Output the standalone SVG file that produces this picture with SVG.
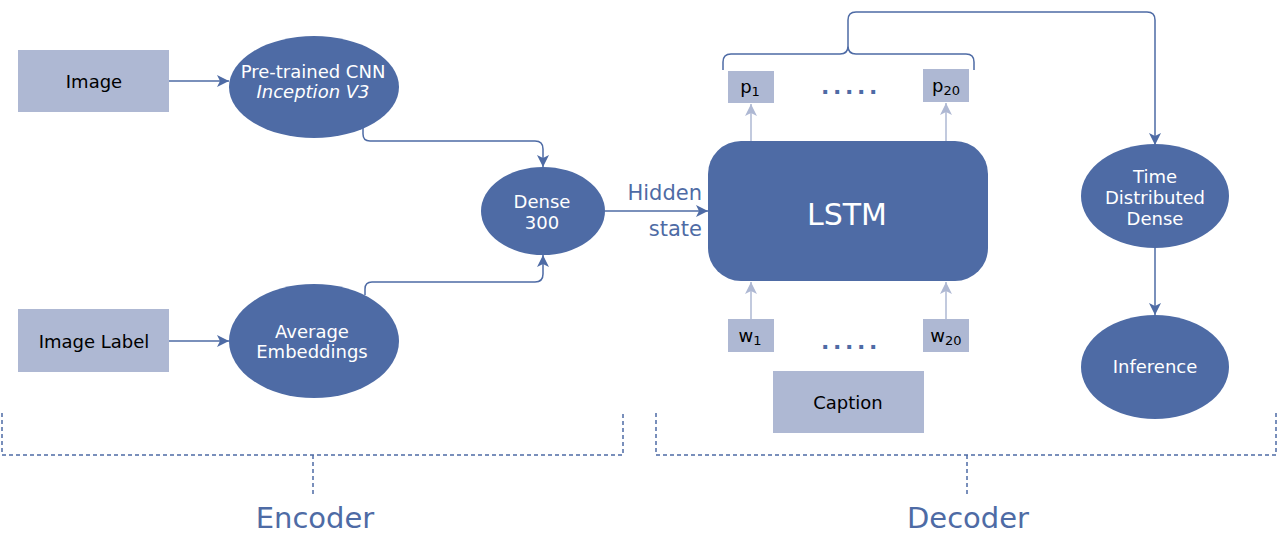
<svg xmlns="http://www.w3.org/2000/svg" width="1278" height="533" viewBox="0 0 1278 533">
<style>
.bx{fill:#AEB8D3}
.nd{fill:#4E6BA5}
.t{font-family:"DejaVu Sans",Verdana,sans-serif;font-size:18px;text-anchor:middle}
.tb{fill:#000}
.tw{fill:#fff}
.ln{fill:none;stroke:#4E6BA5;stroke-width:1.5}
.lt{fill:none;stroke:#AEB8D3;stroke-width:1.5}
.ds{fill:none;stroke:#4E6BA5;stroke-width:1.5;stroke-dasharray:4 3}
.blue{fill:#4E6BA5;font-family:"DejaVu Sans",Verdana,sans-serif}
</style>
<defs>
<marker id="ah" markerUnits="userSpaceOnUse" markerWidth="13" markerHeight="12" refX="12" refY="6" orient="auto">
<path d="M0,0 L12,6 L0,12 L3,6 z" fill="#4E6BA5"/>
</marker>
<marker id="al" markerUnits="userSpaceOnUse" markerWidth="13" markerHeight="12" refX="12" refY="6" orient="auto">
<path d="M0,0 L12,6 L0,12 L3,6 z" fill="#AEB8D3"/>
</marker>
</defs>
<g id="connectors">
<line class="ln" x1="169" y1="81" x2="229" y2="81" marker-end="url(#ah)"/>
<line class="ln" x1="169" y1="341" x2="229" y2="341" marker-end="url(#ah)"/>
<path class="ln" d="M363,126 L363,134 Q363,141 370,141 L535,141 Q543,141 543,149 L543,167" marker-end="url(#ah)"/>
<path class="ln" d="M365,295 L365,289 Q365,282 372,282 L535,282 Q543,282 543,274 L543,255" marker-end="url(#ah)"/>
<line class="ln" x1="605" y1="211" x2="708" y2="211" marker-end="url(#ah)"/>
<line class="lt" x1="751" y1="141" x2="751" y2="104" marker-end="url(#al)"/>
<line class="lt" x1="946" y1="141" x2="946" y2="103" marker-end="url(#al)"/>
<line class="lt" x1="751" y1="319" x2="751" y2="282" marker-end="url(#al)"/>
<line class="lt" x1="946" y1="319" x2="946" y2="282" marker-end="url(#al)"/>
<path class="ln" d="M723,70 L723,62 Q723,54 731,54 L840,54 Q848,54 848,46 Q848,54 856,54 L966,54 Q974,54 974,62 L974,70"/>
<path class="ln" d="M848,46 L848,20 Q848,12 856,12 L1147,12 Q1155,12 1155,20 L1155,145" marker-end="url(#ah)"/>
<line class="ln" x1="1155" y1="248" x2="1155" y2="315" marker-end="url(#ah)"/>
<path class="ds" d="M2,413 L2,455 L623,455 L623,413 M313,455 L313,497"/>
<path class="ds" d="M656,413 L656,455 L1276,455 L1276,413 M967,455 L967,497"/>
</g>
<g id="image">
<rect class="bx" x="18" y="50" width="151" height="62"/>
<text class="t tb" x="94" y="88">Image</text>
</g>
<g id="image-label">
<rect class="bx" x="18" y="309" width="151" height="63"/>
<text class="t tb" x="94" y="348">Image Label</text>
</g>
<g id="cnn">
<ellipse class="nd" cx="314" cy="87" rx="85" ry="51"/>
<text class="t tw" x="313" y="78">Pre-trained CNN</text>
<text class="t tw" x="313" y="98" font-style="italic">Inception V3</text>
</g>
<g id="avg">
<ellipse class="nd" cx="314" cy="341" rx="85" ry="57"/>
<text class="t tw" x="312" y="338">Average</text>
<text class="t tw" x="312" y="358">Embeddings</text>
</g>
<g id="dense">
<ellipse class="nd" cx="543" cy="211" rx="62" ry="44"/>
<text class="t tw" x="542" y="208">Dense</text>
<text class="t tw" x="542" y="229">300</text>
</g>
<g id="hidden-label">
<text class="blue" x="702" y="200" font-size="21" text-anchor="end">Hidden</text>
<text class="blue" x="702" y="236" font-size="21" text-anchor="end">state</text>
</g>
<g id="lstm">
<rect class="nd" x="708" y="141" width="280" height="140" rx="33"/>
<text class="t tw" x="847" y="225" style="font-size:30px">LSTM</text>
</g>
<g id="p1">
<rect class="bx" x="728" y="71" width="46" height="32"/>
<text class="t tb" x="750" y="93">p<tspan style="font-size:13px" dy="3">1</tspan></text>
</g>
<g id="p20">
<rect class="bx" x="923" y="69" width="46" height="33"/>
<text class="t tb" x="946" y="92">p<tspan style="font-size:13px" dy="3">20</tspan></text>
</g>
<g id="p-dots">
<text class="blue" x="851" y="94" font-size="22" font-weight="bold" text-anchor="middle" letter-spacing="3.6">.....</text>
</g>
<g id="w1">
<rect class="bx" x="728" y="319" width="46" height="33"/>
<text class="t tb" x="750" y="342">w<tspan style="font-size:13px" dy="3">1</tspan></text>
</g>
<g id="w20">
<rect class="bx" x="923" y="319" width="46" height="33"/>
<text class="t tb" x="946" y="342">w<tspan style="font-size:13px" dy="3">20</tspan></text>
</g>
<g id="w-dots">
<text class="blue" x="851" y="349" font-size="22" font-weight="bold" text-anchor="middle" letter-spacing="3.6">.....</text>
</g>
<g id="caption">
<rect class="bx" x="773" y="371" width="151" height="62"/>
<text class="t tb" x="848" y="409">Caption</text>
</g>
<g id="tdd">
<ellipse class="nd" cx="1155" cy="196" rx="74" ry="52"/>
<text class="t tw" x="1155" y="183">Time</text>
<text class="t tw" x="1155" y="204">Distributed</text>
<text class="t tw" x="1155" y="225">Dense</text>
</g>
<g id="inference">
<ellipse class="nd" cx="1155" cy="367" rx="74" ry="52"/>
<text class="t tw" x="1155" y="373">Inference</text>
</g>
<g id="sections">
<text class="blue" x="315" y="528" font-size="29" text-anchor="middle">Encoder</text>
<text class="blue" x="968" y="528" font-size="29" text-anchor="middle">Decoder</text>
</g>
</svg>
